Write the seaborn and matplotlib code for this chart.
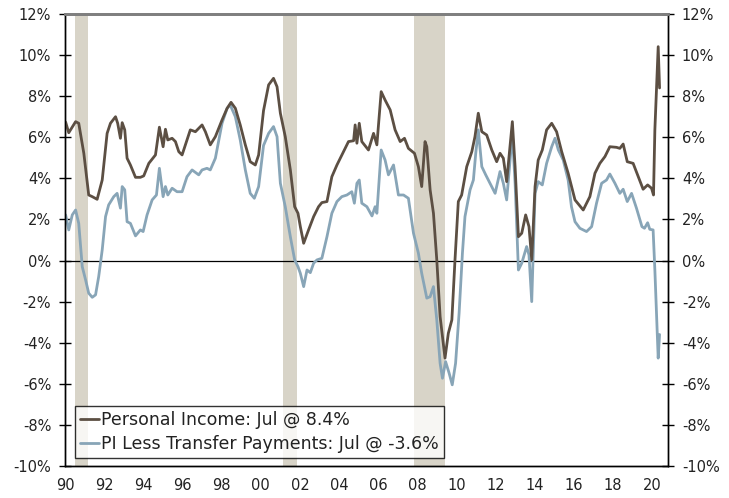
import matplotlib
matplotlib.use("Agg")
import matplotlib.pyplot as plt
import seaborn as sns
import pandas as pd

# ---------------- data ----------------
pi_years = [1990.03, 1990.19, 1990.37, 1990.54, 1990.70, 1990.96, 1991.21, 1991.39, 1991.64,
            1991.90, 1992.15, 1992.32, 1992.58, 1992.69, 1992.83, 1992.92, 1993.05, 1993.17,
            1993.34, 1993.60, 1993.85, 1994.02, 1994.28, 1994.62, 1994.82, 1995.01, 1995.13,
            1995.25, 1995.47, 1995.64, 1995.81, 1995.98, 1996.15, 1996.40, 1996.66, 1997.00,
            1997.17, 1997.42, 1997.68, 1998.02, 1998.28, 1998.48, 1998.70, 1998.95, 1999.21,
            1999.46, 1999.72, 1999.89, 2000.14, 2000.40, 2000.65, 2000.83, 2001.00, 2001.25,
            2001.51, 2001.73, 2001.90, 2002.02, 2002.19, 2002.44, 2002.70, 2002.95, 2003.12,
            2003.38, 2003.63, 2003.89, 2004.23, 2004.48, 2004.74, 2004.82, 2004.91, 2005.03,
            2005.16, 2005.50, 2005.76, 2005.93, 2006.15, 2006.35, 2006.61, 2006.86, 2007.12,
            2007.34, 2007.54, 2007.85, 2008.05, 2008.22, 2008.39, 2008.48, 2008.65, 2008.82,
            2008.99, 2009.16, 2009.28, 2009.41, 2009.58, 2009.76, 2009.92, 2010.09, 2010.26,
            2010.52, 2010.78, 2010.94, 2011.11, 2011.29, 2011.54, 2011.80, 2012.05, 2012.22,
            2012.39, 2012.56, 2012.85, 2012.99, 2013.16, 2013.33, 2013.53, 2013.70, 2013.84,
            2014.01, 2014.17, 2014.38, 2014.60, 2014.86, 2015.11, 2015.37, 2015.70, 2016.05,
            2016.47, 2016.81, 2017.07, 2017.32, 2017.58, 2017.83, 2018.17, 2018.34, 2018.51,
            2018.72, 2019.02, 2019.28, 2019.53, 2019.76, 2019.96, 2020.06, 2020.13, 2020.30,
            2020.37]
pi_values = [6.74, 6.22, 6.50, 6.76, 6.68, 5.22, 3.19, 3.11, 2.98,
             3.92, 6.19, 6.68, 7.00, 6.68, 5.95, 6.71, 6.36, 4.98,
             4.65, 4.05, 4.05, 4.12, 4.73, 5.14, 6.49, 5.54, 6.39,
             5.87, 5.95, 5.79, 5.30, 5.14, 5.63, 6.36, 6.27, 6.60,
             6.27, 5.63, 6.03, 6.84, 7.41, 7.70, 7.41, 6.60, 5.63,
             4.81, 4.65, 5.14, 7.30, 8.55, 8.87, 8.46, 7.17, 6.03,
             4.41, 2.62, 2.30, 1.65, 0.84, 1.49, 2.14, 2.62, 2.82,
             2.87, 4.08, 4.65, 5.30, 5.79, 5.83, 6.60, 5.71, 6.68,
             5.79, 5.38, 6.19, 5.63, 8.22, 7.81, 7.33, 6.36, 5.79,
             5.95, 5.46, 5.22, 4.57, 3.60, 5.79, 5.54, 3.44, 2.30,
             0.03, -2.73, -3.70, -4.75, -3.54, -2.89, 0.03, 2.87, 3.19,
             4.57, 5.30, 6.03, 7.17, 6.27, 6.11, 5.38, 4.81, 5.22,
             4.98, 3.84, 6.76, 4.57, 1.16, 1.33, 2.22, 1.65, 0.03,
             3.60, 4.89, 5.38, 6.36, 6.68, 6.27, 5.30, 4.25, 2.95,
             2.46, 3.11, 4.25, 4.73, 5.06, 5.54, 5.51, 5.46, 5.67,
             4.81, 4.73, 4.08, 3.47, 3.68, 3.52, 3.19, 6.36, 10.41,
             8.40]

ptx_years = [1990.03, 1990.19, 1990.37, 1990.54, 1990.70, 1990.88, 1991.05, 1991.21, 1991.39,
             1991.56, 1991.72, 1991.90, 1992.07, 1992.23, 1992.49, 1992.66, 1992.83, 1992.92,
             1993.05, 1993.17, 1993.34, 1993.60, 1993.85, 1993.99, 1994.19, 1994.45, 1994.67,
             1994.82, 1995.01, 1995.13, 1995.25, 1995.47, 1995.72, 1995.98, 1996.23, 1996.49,
             1996.83, 1997.00, 1997.25, 1997.42, 1997.68, 1998.02, 1998.28, 1998.44, 1998.70,
             1998.95, 1999.21, 1999.46, 1999.67, 1999.89, 2000.14, 2000.40, 2000.65, 2000.83,
             2001.00, 2001.25, 2001.51, 2001.73, 2001.90, 2002.02, 2002.19, 2002.36, 2002.53,
             2002.70, 2002.87, 2003.12, 2003.38, 2003.63, 2003.89, 2004.14, 2004.40, 2004.65,
             2004.78, 2004.91, 2005.03, 2005.16, 2005.42, 2005.68, 2005.84, 2005.93, 2006.15,
             2006.35, 2006.52, 2006.78, 2007.03, 2007.29, 2007.54, 2007.80, 2008.05, 2008.22,
             2008.48, 2008.65, 2008.82, 2008.99, 2009.16, 2009.28, 2009.44, 2009.62, 2009.78,
             2009.95, 2010.13, 2010.30, 2010.43, 2010.69, 2010.86, 2010.98, 2011.11, 2011.29,
             2011.49, 2011.71, 2011.97, 2012.22, 2012.39, 2012.56, 2012.85, 2012.99, 2013.16,
             2013.33, 2013.58, 2013.70, 2013.84, 2014.01, 2014.17, 2014.38, 2014.60, 2014.86,
             2015.03, 2015.20, 2015.45, 2015.70, 2015.87, 2016.05, 2016.30, 2016.64, 2016.90,
             2017.15, 2017.41, 2017.66, 2017.83, 2018.09, 2018.34, 2018.51, 2018.72, 2018.94,
             2019.19, 2019.47, 2019.60, 2019.76, 2019.87, 2020.04, 2020.13, 2020.30, 2020.37]
ptx_values = [2.22, 1.49, 2.22, 2.46, 1.81, -0.30, -0.94, -1.59, -1.79,
              -1.67, -0.78, 0.52, 2.14, 2.71, 3.11, 3.27, 2.55, 3.60,
              3.44, 1.89, 1.81, 1.20, 1.49, 1.41, 2.22, 2.95, 3.19,
              4.49, 3.11, 3.60, 3.19, 3.52, 3.35, 3.35, 4.08, 4.41,
              4.17, 4.41, 4.49, 4.41, 4.98, 6.68, 7.41, 7.57, 7.00,
              5.87, 4.41, 3.27, 3.03, 3.60, 5.60, 6.19, 6.52, 6.03,
              3.76, 2.62, 1.16, 0.03, -0.30, -0.62, -1.27, -0.46, -0.59,
              -0.13, 0.03, 0.11, 1.16, 2.30, 2.87, 3.11, 3.19, 3.35,
              2.79, 3.76, 3.92, 2.79, 2.62, 2.17, 2.62, 2.30, 5.38,
              4.89, 4.17, 4.65, 3.19, 3.19, 3.03, 1.33, 0.36, -0.62,
              -1.83, -1.76, -1.27, -2.89, -5.00, -5.73, -4.92, -5.48, -6.05,
              -5.00, -2.56, 0.36, 2.14, 3.44, 3.92, 5.22, 6.36, 4.57,
              4.17, 3.76, 3.27, 4.33, 3.76, 2.95, 6.19, 3.76, -0.46,
              -0.13, 0.68, 0.27, -2.00, 3.27, 3.84, 3.68, 4.73, 5.54,
              5.95, 5.38, 4.89, 3.92, 2.62, 1.89, 1.57, 1.41, 1.65,
              2.79, 3.76, 3.92, 4.21, 3.76, 3.27, 3.47, 2.87, 3.27,
              2.55, 1.65, 1.57, 1.84, 1.52, 1.49, -0.46, -4.75, -3.60]

recession_starts = [1990.50, 2001.12, 2007.85]
recession_ends = [1991.15, 2001.85, 2009.42]

series_labels = ["Personal Income: Jul @ 8.4%", "PI Less Transfer Payments: Jul @ -3.6%"]
y_ticks = list(range(-10, 13, 2))
x_ticks = list(range(1990, 2021, 2))
x_tick_labels = [f"{y % 100:02d}" for y in x_ticks]

# ---------------- plotting ----------------
sns.set_style("white")
plt.rcParams["font.family"] = ["DejaVu Sans"]

fig = plt.figure(figsize=(7.29, 4.98), dpi=100)
ax = fig.add_axes([0.0892, 0.0643, 0.8271, 0.9076])

for s, e in zip(recession_starts, recession_ends):
    ax.axvspan(s, e, color="#D8D4C8", lw=0, zorder=0)

ax.axhline(0, color="black", lw=0.9, zorder=1)

pi_df = pd.DataFrame({"year": pi_years, "value": pi_values})
ptx_df = pd.DataFrame({"year": ptx_years, "value": ptx_values})

sns.lineplot(data=pi_df, x="year", y="value", ax=ax, color="#5C4F43", lw=2.0,
             label=series_labels[0], estimator=None, sort=False, zorder=3)
sns.lineplot(data=ptx_df, x="year", y="value", ax=ax, color="#88A5B7", lw=2.0,
             label=series_labels[1], estimator=None, sort=False, zorder=2)

ax.set_xlim(1990, 2020.8)
ax.set_ylim(-10, 12)
ax.set_xlabel("")
ax.set_ylabel("")

ax.set_xticks(x_ticks)
ax.set_xticklabels(x_tick_labels, fontsize=10.5, color="#222222")
ax.set_yticks(y_ticks)
ax.set_yticklabels([f"{t}%" for t in y_ticks], fontsize=10.5, color="#222222")
ax.tick_params(axis="both", direction="inout", length=8, width=1, color="black", pad=6)
ax.tick_params(axis="x", pad=5)

ax2 = ax.twinx()
ax2.set_ylim(-10, 12)
ax2.set_yticks(y_ticks)
ax2.set_yticklabels([f"{t}%" for t in y_ticks], fontsize=10.5, color="#222222")
ax2.tick_params(axis="y", direction="inout", length=8, width=1, color="black", pad=6)

for a in (ax, ax2):
    for side in ("left", "right", "bottom"):
        a.spines[side].set_color("black")
        a.spines[side].set_linewidth(1.0)
    a.spines["top"].set_color("#7F7F7F")
    a.spines["top"].set_linewidth(2.0)

leg = ax.legend(loc="lower left", bbox_to_anchor=(0.016, 0.018), fontsize=12.5,
                frameon=True, fancybox=False, handlelength=1.1, handletextpad=0.1,
                borderpad=0.3, labelspacing=0.3, borderaxespad=0)
leg.get_frame().set_edgecolor("black")
leg.get_frame().set_linewidth(1.0)
for t in leg.get_texts():
    t.set_color("#222222")

fig.savefig("out.png", dpi=100)
